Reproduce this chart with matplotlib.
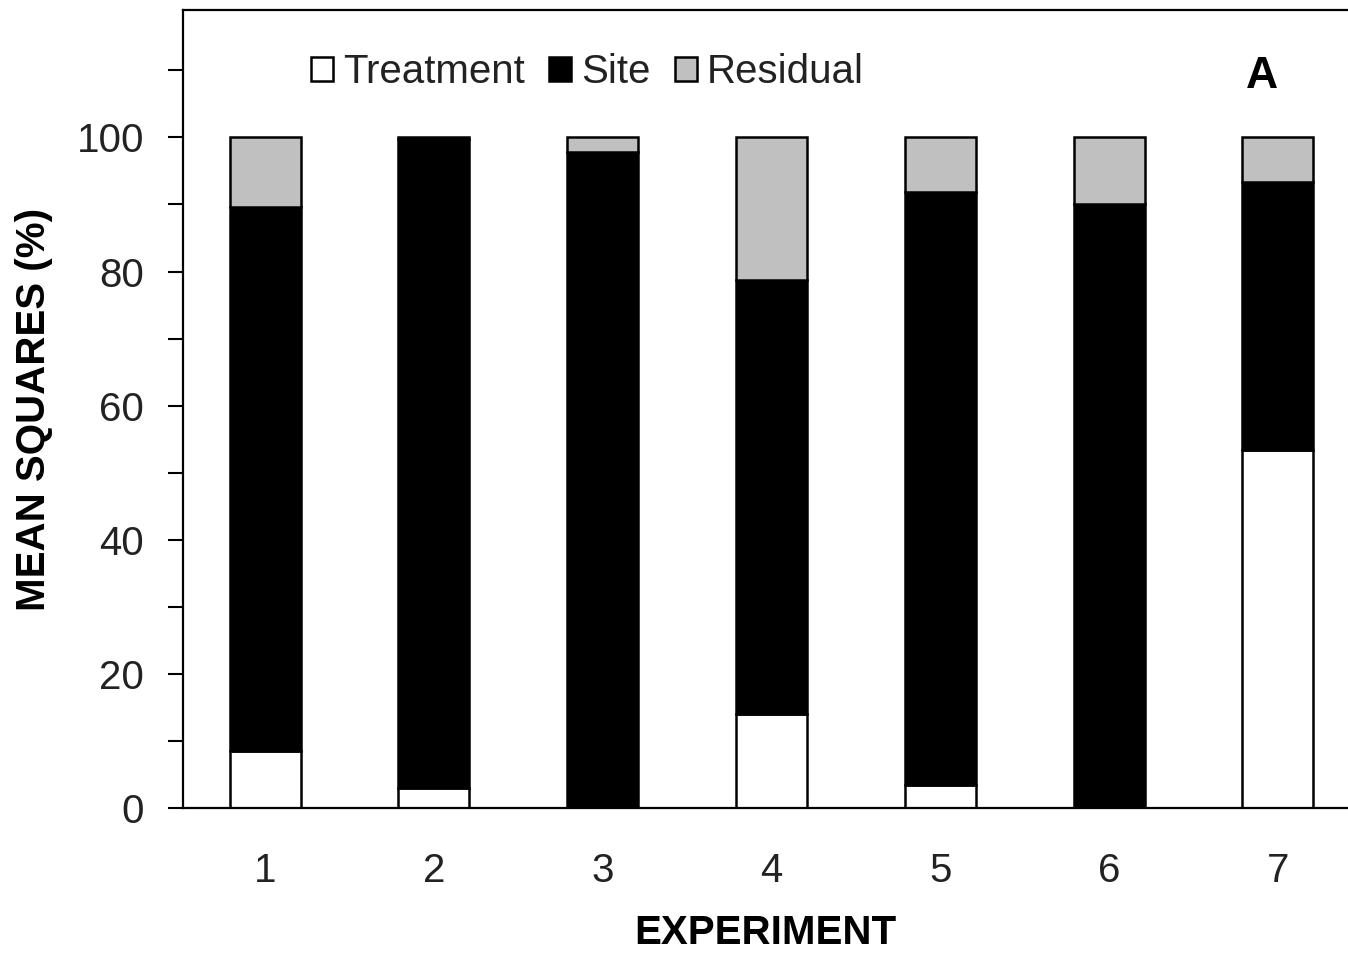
import numpy as np
import matplotlib
matplotlib.use("Agg")
import matplotlib.pyplot as plt

plt.rcParams['font.family'] = ['Liberation Sans', 'DejaVu Sans']

# Data (% of mean squares per experiment)
experiments = ['1', '2', '3', '4', '5', '6', '7']
treatment = [8.5, 3.0, 0.0, 14.0, 3.4, 0.0, 53.4]
site      = [81.2, 96.8, 97.8, 64.8, 88.4, 90.1, 40.0]
residual  = [10.3, 0.2, 2.2, 21.2, 8.2, 9.9, 6.6]

x = np.arange(1, len(experiments) + 1)
treatment = np.array(treatment)
site = np.array(site)
residual = np.array(residual)

fig = plt.figure(figsize=(13.48, 9.55), dpi=100)
ax = fig.add_axes([0.1358, 0.1539, 0.8642, 0.8356])

w = 0.42
lw = 1.8
ax.bar(x, treatment, w, color='white', edgecolor='black', linewidth=lw, label='Treatment')
ax.bar(x, site, w, bottom=treatment, color='black', edgecolor='black', linewidth=lw, label='Site')
ax.bar(x, residual, w, bottom=treatment + site, color='#c0c0c0', edgecolor='black',
       linewidth=lw, label='Residual')

ax.set_xlim(0.514, 7.415)
ax.set_ylim(0, 119)
ax.set_xticks(x)
ax.set_xticklabels(experiments)
ax.set_yticks(np.arange(0, 101, 20))
ax.set_yticks(np.arange(0, 111, 10), minor=True)

ax.tick_params(axis='y', which='both', direction='out', length=11, width=1.5,
               labelsize=29, pad=17, colors='black', labelcolor='#222222')
ax.tick_params(axis='x', length=0, labelsize=29, pad=32, labelcolor='#222222')

for s in ['left', 'top', 'bottom']:
    ax.spines[s].set_linewidth(1.6)
ax.spines['right'].set_visible(False)

ax.set_ylabel('MEAN SQUARES (%)', fontsize=29, fontweight='bold', labelpad=17)
ax.set_xlabel('EXPERIMENT', fontsize=29, fontweight='bold', labelpad=17)

ax.text(1262 / 1348, 1 - 76 / 955, 'A', transform=fig.transFigure, fontsize=32,
        fontweight='bold', ha='center', va='center')

leg = ax.legend(loc='center left', bbox_to_anchor=(311 / 1348, 1 - 72 / 955),
                bbox_transform=fig.transFigure, ncol=3, frameon=False, fontsize=29,
                handlelength=0.55, handleheight=0.55, handletextpad=0.25,
                columnspacing=0.6, borderpad=0, borderaxespad=0)
for t in leg.get_texts():
    t.set_color('#222222')

fig.savefig('out.png', dpi=100)
